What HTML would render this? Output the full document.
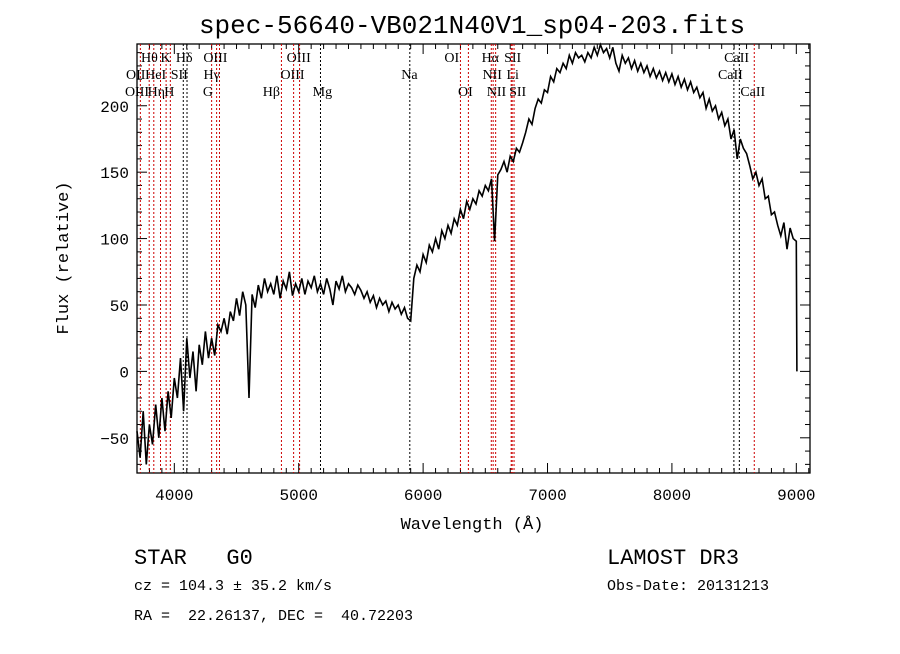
<!DOCTYPE html>
<html><head><meta charset="utf-8"><style>
body{margin:0;background:#fff;width:900px;height:649px;overflow:hidden}
svg text{font-family:"Liberation Mono",monospace;fill:#000;white-space:pre}
.lab{font-family:"Liberation Serif",serif;font-size:14px}
</style></head><body>
<svg id="chart" width="900" height="649" xmlns="http://www.w3.org/2000/svg">
<text x="472" y="33" text-anchor="middle" font-size="26">spec-56640-VB021N40V1_sp04-203.fits</text>
<g id="axes"></g>
<g id="lines"></g>
<g id="series"></g>
<text x="472" y="529" text-anchor="middle" font-size="17">Wavelength (Å)</text>
<text transform="translate(68,258) rotate(-90)" text-anchor="middle" font-size="17">Flux (relative)</text>
<text x="134" y="564" font-size="22">STAR   G0</text>
<text x="607" y="564" font-size="22">LAMOST DR3</text>
<text x="134" y="590" font-size="15">cz = 104.3 ± 35.2 km/s</text>
<text x="607" y="590" font-size="15">Obs-Date: 20131213</text>
<text x="134" y="620" font-size="15">RA =  22.26137, DEC =  40.72203</text>
</svg>
<script>
const xTicks=[4000,5000,6000,7000,8000,9000];
const yTicks=[-50,0,50,100,150,200];
const waveStart=3700, waveStep=25;
const flux=[-45,-65,-30,-70,-40,-55,-25,-50,-20,-45,-15,-35,-5,
-20,10,-30,25,-5,15,-15,20,5,30,10,25,12,35,30,40,
28,45,38,55,42,60,50,-20,58,48,65,55,70,60,66,58,72,55,68,62,75,57,66,60,
70,58,68,63,72,60,66,58,70,62,50,68,62,72,60,66,63,58,65,61,55,60,52,57,48,55,50,53,45,52,47,50,43,48,40,38,
70,80,75,88,82,95,90,100,92,106,100,110,104,115,110,122,115,128,122,130,126,136,132,140,136,145,98,148,152,158,150,162,158,168,165,172,180,190,186,198,205,202,212,210,
222,218,228,225,232,228,238,232,240,236,238,233,240,236,244,238,246,240,243,236,244,232,226,238,232,236,228,234,226,232,225,230,222,228,221,226,219,225,218,224,
216,222,214,220,212,218,210,214,206,210,198,205,196,200,190,195,185,190,175,182,160,175,168,164,155,145,150,140,145,130,132,118,120,110,102,112,92,108,100,98];
const lineWaves=[3727,3798,3835,3889,3934,3968,4072,4102,4300,4340,4363,4861,4959,5007,5175,5893,6300,6364,6548,6563,6583,6708,6716,6731,8498,8542,8662];
const lineBlack=[0,0,0,0,0,0,1,1,0,0,0,0,0,0,1,1,0,0,0,0,0,0,0,0,1,1,0];
const labelText=["Hθ","K","Hδ","OIII","OIII","OI","Hα","SII","CaII","OII","HeI","SII","Hγ","OIII","Na","NII","Li","CaII","OIII","Hη","H","G","Hβ","Mg","OI","NII","SII","CaII"];
const labelWave=[3800,3930,4080,4330,5000,6230,6540,6720,8520,3690,3850,4040,4300,4950,5890,6555,6720,8470,3700,3855,3960,4270,4780,5190,6340,6590,6760,8650];
const labelRow=[0,0,0,0,0,0,0,0,0,1,1,1,1,1,1,1,1,1,2,2,2,2,2,2,2,2,2,2];
const X0=137,X1=810,Y0=44,Y1=473,XMIN=3700,XMAX=9110,YMIN=-76.5,YMAX=246.5;
const xs=w=>X0+(w-XMIN)/(XMAX-XMIN)*(X1-X0);
const ys=v=>Y1-(v-YMIN)/(YMAX-YMIN)*(Y1-Y0);
const NS="http://www.w3.org/2000/svg";
function mk(t,a,p){const e=document.createElementNS(NS,t);for(const k in a)e.setAttribute(k,a[k]);p.appendChild(e);return e;}
const ax=document.getElementById('axes');
const frame=mk('rect',{x:X0,y:Y0,width:X1-X0,height:Y1-Y0,fill:'none',stroke:'#000','stroke-width':1.3},ax);


for(let w=3700;w<=9100;w+=100){const x=xs(w);const L=(w%1000===0)?10:5;
mk('line',{x1:x,x2:x,y1:Y1,y2:Y1-L,stroke:'#000'},ax);mk('line',{x1:x,x2:x,y1:Y0,y2:Y0+L,stroke:'#000'},ax);}
for(let v=-70;v<=240;v+=10){const y=ys(v);const L=(v%50===0)?10:5;
mk('line',{x1:X0,x2:X0+L,y1:y,y2:y,stroke:'#000'},ax);mk('line',{x1:X1,x2:X1-L,y1:y,y2:y,stroke:'#000'},ax);}
xTicks.forEach(t=>{const e=mk('text',{x:xs(t),y:Y1+27,'text-anchor':'middle','font-size':16},ax);e.textContent=t;

});
yTicks.forEach(t=>{const e=mk('text',{x:X0-8,y:ys(t)+6,'text-anchor':'end','font-size':16},ax);e.textContent=t<0?'−'+(-t):t;

});
const lg=document.getElementById('lines');
lineWaves.forEach((w,i)=>{const x=xs(w);const l=mk('line',{x1:x,x2:x,y1:Y0,y2:Y1,stroke:lineBlack[i]?'#000':'#c00','stroke-dasharray':'2,2','stroke-width':1},lg);

});
labelText.forEach((s,i)=>{const e=mk('text',{x:xs(labelWave[i]),y:62+labelRow[i]*17,'text-anchor':'middle',class:'lab'},lg);e.textContent=s;

});
let pts=flux.map((v,i)=>xs(waveStart+i*waveStep).toFixed(1)+','+ys(v).toFixed(1));
const lastW=waveStart+(flux.length-1)*waveStep;
pts.push(xs(lastW+5).toFixed(1)+','+ys(0).toFixed(1));
const pl=mk('polyline',{points:pts.join(' '),fill:'none',stroke:'#000','stroke-width':1.6,'stroke-linejoin':'miter'},document.getElementById('series'));


</script>
</body></html>
